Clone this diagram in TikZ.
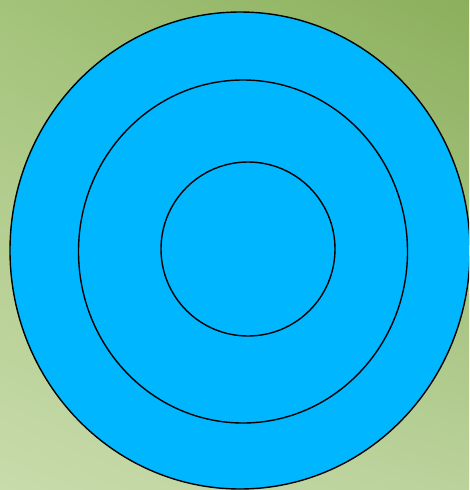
\documentclass[tikz,border=0pt]{standalone}
\usetikzlibrary{shadings}
\definecolor{bgTR}{HTML}{8BAF5C}
\definecolor{bgBL}{HTML}{C8DBAB}
\definecolor{bgTL}{HTML}{A4C37A}
\definecolor{bgBR}{HTML}{BAD29B}
\definecolor{ringblue}{HTML}{00B6FF}
\tikzset{ring/.style={draw=black, line width=1.4pt, fill=ringblue}}
\begin{document}
\begin{tikzpicture}[x=1pt,y=-1pt]
\useasboundingbox (0,0) rectangle (469,490);
\shade[upper right=bgTR, lower left=bgBL, upper left=bgTL, lower right=bgBR] (0,0) rectangle (469,490);
\begin{scope}
\clip (0,0) rectangle (469,490);
\draw[ring] (240,250.5) ellipse [x radius=230, y radius=238.5];
\draw[ring] (243,251.5) ellipse [x radius=164.5, y radius=171.5];
\draw[ring] (248,249) ellipse [x radius=87, y radius=87];
\end{scope}
\end{tikzpicture}
\end{document}
